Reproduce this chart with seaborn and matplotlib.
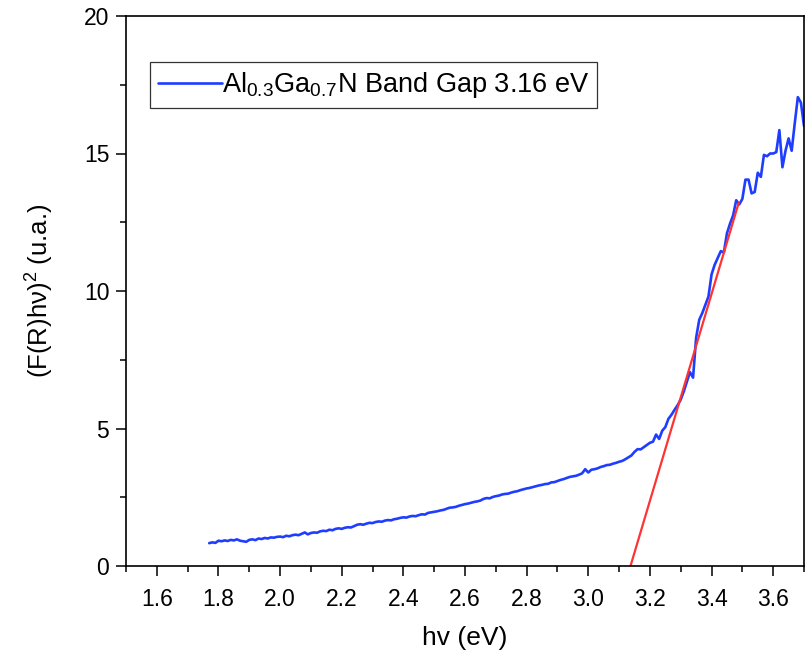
import numpy as np
import pandas as pd
import matplotlib
matplotlib.use("Agg")
import matplotlib.pyplot as plt
import seaborn as sns
from matplotlib.ticker import MultipleLocator

# ---- data ----
hv_start, hv_step = 1.77, 0.01
absorb = [
    0.83, 0.86, 0.84, 0.92, 0.90, 0.93, 0.91, 0.95, 0.93, 0.97,
    0.92, 0.90, 0.88, 0.95, 0.97, 0.94, 1.00, 0.98, 1.02, 1.00,
    1.04, 1.03, 1.06, 1.07, 1.05, 1.10, 1.08, 1.12, 1.14, 1.12,
    1.17, 1.22, 1.15, 1.20, 1.22, 1.21, 1.26, 1.28, 1.27, 1.32,
    1.30, 1.35, 1.37, 1.35, 1.39, 1.41, 1.40, 1.45, 1.50, 1.52,
    1.50, 1.54, 1.57, 1.56, 1.60, 1.62, 1.61, 1.65, 1.67, 1.66,
    1.70, 1.72, 1.75, 1.77, 1.76, 1.80, 1.82, 1.81, 1.85, 1.88,
    1.87, 1.93, 1.95, 1.97, 1.99, 2.02, 2.04, 2.08, 2.12, 2.13,
    2.15, 2.19, 2.22, 2.25, 2.27, 2.30, 2.33, 2.35, 2.38, 2.44,
    2.47, 2.46, 2.51, 2.54, 2.56, 2.60, 2.62, 2.63, 2.67, 2.70,
    2.72, 2.76, 2.79, 2.82, 2.84, 2.87, 2.90, 2.93, 2.95, 2.98,
    2.99, 3.04, 3.05, 3.09, 3.13, 3.16, 3.20, 3.24, 3.26, 3.28,
    3.32, 3.37, 3.52, 3.40, 3.50, 3.52, 3.55, 3.60, 3.63, 3.67,
    3.68, 3.72, 3.75, 3.79, 3.82, 3.88, 3.95, 4.02, 4.15, 4.25,
    4.24, 4.32, 4.40, 4.48, 4.52, 4.78, 4.62, 4.92, 5.05, 5.35,
    5.50, 5.68, 5.85, 6.05, 6.35, 6.70, 7.05, 6.85, 8.30, 8.95,
    9.20, 9.50, 9.80, 10.60, 10.95, 11.20, 11.45, 11.40, 12.10, 12.45,
    12.75, 13.30, 13.15, 13.35, 14.05, 14.05, 13.55, 13.60, 14.30, 14.15,
    14.95, 14.90, 15.00, 15.00, 15.05, 15.85, 14.50, 15.10, 15.55, 15.10,
    16.10, 17.05, 16.85, 16.00,
]
hv = np.round(hv_start + hv_step * np.arange(len(absorb)), 2)

fit_hv = [3.137, 3.488]
fit_y = [0.0, 13.2]

legend_label = r"Al$_{0.3}$Ga$_{0.7}$N Band Gap 3.16 eV"
x_label = "hv (eV)"
y_label = "(F(R)h\u03bd)$^{2}$ (u.a.)"

df = pd.DataFrame({"hv": hv, "val": absorb})
df_fit = pd.DataFrame({"hv": fit_hv, "val": fit_y})

# ---- style ----
sns.set_theme(style="ticks")
plt.rcParams["font.family"] = ["Liberation Sans", "DejaVu Sans"]
plt.rcParams["mathtext.fontset"] = "custom"
plt.rcParams["mathtext.rm"] = "Liberation Sans"
plt.rcParams["mathtext.it"] = "Liberation Sans:italic"
plt.rcParams["mathtext.bf"] = "Liberation Sans:bold"
plt.rcParams["text.color"] = "black"
plt.rcParams["axes.labelcolor"] = "black"

fig = plt.figure(figsize=(8.05, 6.57), dpi=100)
ax = fig.add_axes([126 / 805, 1 - 566 / 657, 678 / 805, 550 / 657])

sns.lineplot(data=df, x="hv", y="val", ax=ax, color="#1f3dff", lw=1.9,
             estimator=None, sort=False, label=legend_label)
sns.lineplot(data=df_fit, x="hv", y="val", ax=ax, color="#ff3333", lw=1.6,
             estimator=None, sort=False, legend=False)

ax.set_xlim(1.5, 3.7)
ax.set_ylim(0, 20)
ax.xaxis.set_major_locator(MultipleLocator(0.2))
ax.xaxis.set_minor_locator(MultipleLocator(0.1))
ax.yaxis.set_major_locator(MultipleLocator(5))
ax.yaxis.set_minor_locator(MultipleLocator(2.5))
ax.xaxis.set_major_formatter(matplotlib.ticker.FormatStrFormatter("%.1f"))

ax.tick_params(axis="both", which="major", direction="out", length=7,
               width=1.1, labelsize=16.5, colors="black", pad=5,
               top=False, right=False)
ax.tick_params(axis="both", which="minor", direction="out", length=4.5,
               width=1.1, colors="black", top=False, right=False)
ax.tick_params(axis="x", which="major", pad=9)
for s in ax.spines.values():
    s.set_visible(True)
    s.set_linewidth(1.2)
    s.set_color("black")

ax.set_xlabel(x_label, fontsize=19, labelpad=11)
ax.set_ylabel(y_label, fontsize=18.5, labelpad=20)

leg = ax.legend(loc="upper left", bbox_to_anchor=(24 / 678, 1 - 46 / 550),
                borderaxespad=0, frameon=True, fancybox=False,
                edgecolor="black", fontsize=19.5, handlelength=2.35,
                handletextpad=0.0, borderpad=0.3)
leg.get_frame().set_linewidth(0.9)
for t in leg.get_texts():
    t.set_color("black")

fig.savefig("out.png", dpi=100)
